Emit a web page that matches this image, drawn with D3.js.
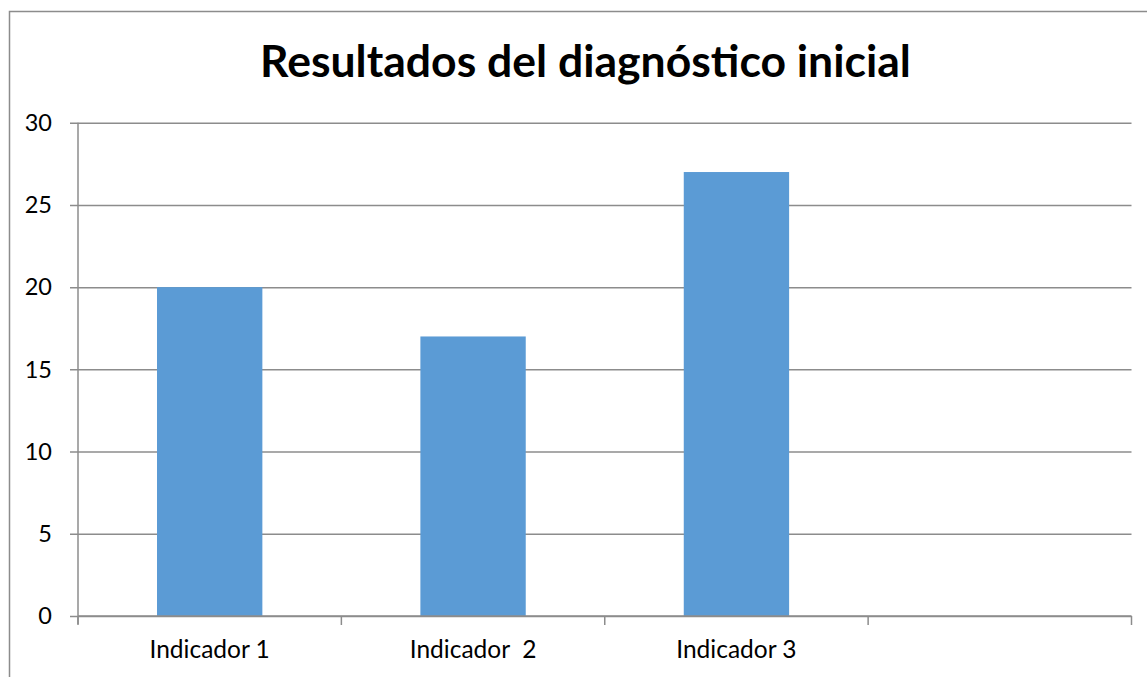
<!DOCTYPE html>
<html><head><meta charset="utf-8">
<script src="https://cdn.jsdelivr.net/npm/d3@7"></script>
<style>html,body{margin:0;padding:0;background:#fff;}svg{display:block;}</style>
</head><body>
<script>
const title = "Resultados del diagnóstico inicial";
const categories = ["Indicador 1", "Indicador  2", "Indicador 3", ""];
const values = [20, 17, 27, null];
const yTicks = [0, 5, 10, 15, 20, 25, 30];

const W = 1147, H = 677;
const font = "Lato, 'Open Sans', sans-serif";
const gridColor = "#8c8c8c";
const svg = d3.select("body").append("svg").attr("width", W).attr("height", H);

svg.append("rect").attr("width", W).attr("height", H).attr("fill", "#fff");
// outer chart border (top & left visible)
svg.append("path").attr("d", `M9.5,${H+5} L9.5,11.5 L${W+5},11.5`)
  .attr("fill", "none").attr("stroke", gridColor).attr("stroke-width", 1.5);

const m = {left: 78, right: 1131.5, top: 122.7, bottom: 616};
const x = d3.scaleBand().domain(categories.map((d,i)=>i)).range([m.left, m.right]).padding(0);
const y = d3.scaleLinear().domain([0, 30]).range([m.bottom, m.top]);

svg.append("text").attr("x", 585.5).attr("y", 77)
  .attr("text-anchor", "middle").attr("font-family", font).attr("font-weight", "bold")
  .attr("font-size", 44.5).attr("fill", "#000").text(title);

// gridlines
const yAxis = d3.axisLeft(y).tickValues(yTicks).tickSize(-(m.right - m.left)).tickPadding(0).tickFormat("");
const gy = svg.append("g").attr("transform", `translate(${m.left},0)`).call(yAxis);
gy.select(".domain").remove();
gy.selectAll(".tick line").attr("stroke", gridColor).attr("stroke-width", 1.5).attr("x1", -8);

// y axis line
svg.append("line").attr("x1", m.left).attr("x2", m.left).attr("y1", y(30)).attr("y2", y(0) + 8)
  .attr("stroke", gridColor).attr("stroke-width", 1.5);

// y labels
svg.append("g").selectAll("text").data(yTicks).join("text")
  .attr("x", 52).attr("y", d => y(d)).attr("dy", "0.35em")
  .attr("text-anchor", "end").attr("font-family", font).attr("font-size", 23.5).attr("fill", "#000")
  .text(d => d);

// bars
svg.append("g").selectAll("rect").data(values.map((v,i)=>({v,i})).filter(d=>d.v!=null)).join("rect")
  .attr("x", d => x(d.i) + x.bandwidth()*0.3)
  .attr("width", x.bandwidth()*0.4)
  .attr("y", d => y(d.v))
  .attr("height", d => y(0) - y(d.v))
  .attr("fill", "#5b9bd5");

// x axis baseline
svg.append("line").attr("x1", m.left).attr("x2", m.right).attr("y1", y(0)).attr("y2", y(0))
  .attr("stroke", gridColor).attr("stroke-width", 1.5);
// category boundary ticks
const bounds = categories.map((d,i)=>x(i)).concat([m.right]);
svg.append("g").selectAll("line").data(bounds).join("line")
  .attr("x1", d => d).attr("x2", d => d).attr("y1", y(0)).attr("y2", y(0) + 9)
  .attr("stroke", gridColor).attr("stroke-width", 1.5);

// category labels
svg.append("g").selectAll("text").data(categories).join("text")
  .attr("x", (d,i) => x(i) + x.bandwidth()/2).attr("y", 658)
  .attr("text-anchor", "middle").attr("font-family", font).attr("font-size", 24.5).attr("fill", "#000")
  .attr("xml:space", "preserve").style("white-space", "pre")
  .text(d => d);
</script>
</body></html>
